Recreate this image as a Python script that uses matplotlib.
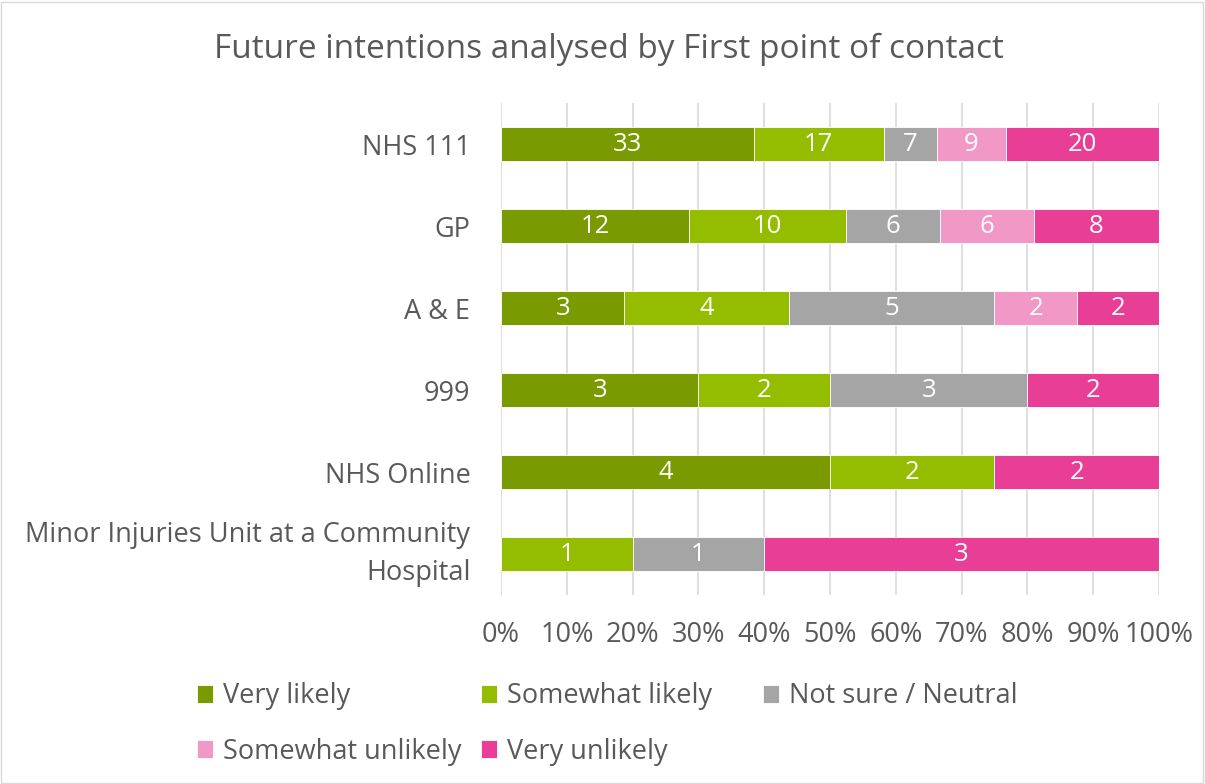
import numpy as np
import matplotlib.pyplot as plt
from matplotlib.patches import Rectangle

plt.rcParams['font.family'] = ['Open Sans', 'DejaVu Sans']

categories = ['NHS 111', 'GP', 'A & E', '999', 'NHS Online',
              'Minor Injuries Unit at a Community\nHospital']
series = ['Very likely', 'Somewhat likely', 'Not sure / Neutral',
          'Somewhat unlikely', 'Very unlikely']
very_likely = [33, 12, 3, 3, 4, 0]
somewhat_likely = [17, 10, 4, 2, 2, 1]
not_sure = [7, 6, 5, 3, 0, 1]
somewhat_unlikely = [9, 6, 2, 0, 0, 0]
very_unlikely = [20, 8, 2, 2, 2, 3]
colors = ['#7A9A01', '#95BD00', '#A5A5A5', '#F298C6', '#E83E96']

data = np.array([very_likely, somewhat_likely, not_sure,
                 somewhat_unlikely, very_unlikely], dtype=float)
totals = data.sum(axis=0)
pct = data / totals * 100

fig = plt.figure(figsize=(12.05, 7.84), dpi=100)
ax = fig.add_axes([0.4158, 0.241, 0.546, 0.6276])
text_col = '#595959'

y = np.arange(len(categories))
left = np.zeros(len(categories))
handles = []
for i, name in enumerate(series):
    bars = ax.barh(y, pct[i], left=left, height=0.41, color=colors[i],
                   edgecolor='white', linewidth=0.6, label=name, zorder=3)
    handles.append(bars)
    for j in range(len(categories)):
        if data[i, j] > 0:
            ax.text(left[j] + pct[i, j] / 2, y[j], '%d' % data[i, j],
                    ha='center', va='center', color='white', fontsize=18.5, zorder=4)
    left += pct[i]

ax.set_xlim(0, 100)
ax.set_ylim(len(categories) - 0.5, -0.5)
ax.set_xticks(np.arange(0, 101, 10))
ax.set_xticklabels(['%d%%' % v for v in range(0, 101, 10)])
ax.set_yticks(y)
ax.set_yticklabels(categories, linespacing=1.45)
for lab in ax.get_yticklabels():
    if '\n' in lab.get_text():
        lab.set_va('center')
ax.tick_params(axis='both', length=0, labelsize=19.5, labelcolor=text_col)
ax.tick_params(axis='x', pad=19)
ax.tick_params(axis='y', pad=22)
ax.grid(axis='x', color='#D9D9D9', linewidth=1.2, zorder=0)
for s in ax.spines.values():
    s.set_visible(False)

fig.text(0.505, 0.937, 'Future intentions analysed by First point of contact',
         ha='center', va='center', fontsize=24, color=text_col)

# legend laid out in three equal columns, row by row
columns = [[0, 3], [1, 4], [2]]
col_x = [197 / 1205, 481 / 1205, 763 / 1205]
for cols, cx in zip(columns, col_x):
    fig.legend([handles[k] for k in cols], [series[k] for k in cols],
               loc='upper left', bbox_to_anchor=(cx, 0.1295), frameon=False,
               borderpad=0, borderaxespad=0,
               fontsize=19.5, labelcolor=text_col, handlelength=0.6, handleheight=0.6,
               handletextpad=0.35, labelspacing=1.0)

fig.patches.append(Rectangle((0.001, 0.001), 0.997, 0.997, transform=fig.transFigure,
                             fill=False, edgecolor='#D9D9D9', linewidth=1))

fig.savefig('out.png', dpi=100)
